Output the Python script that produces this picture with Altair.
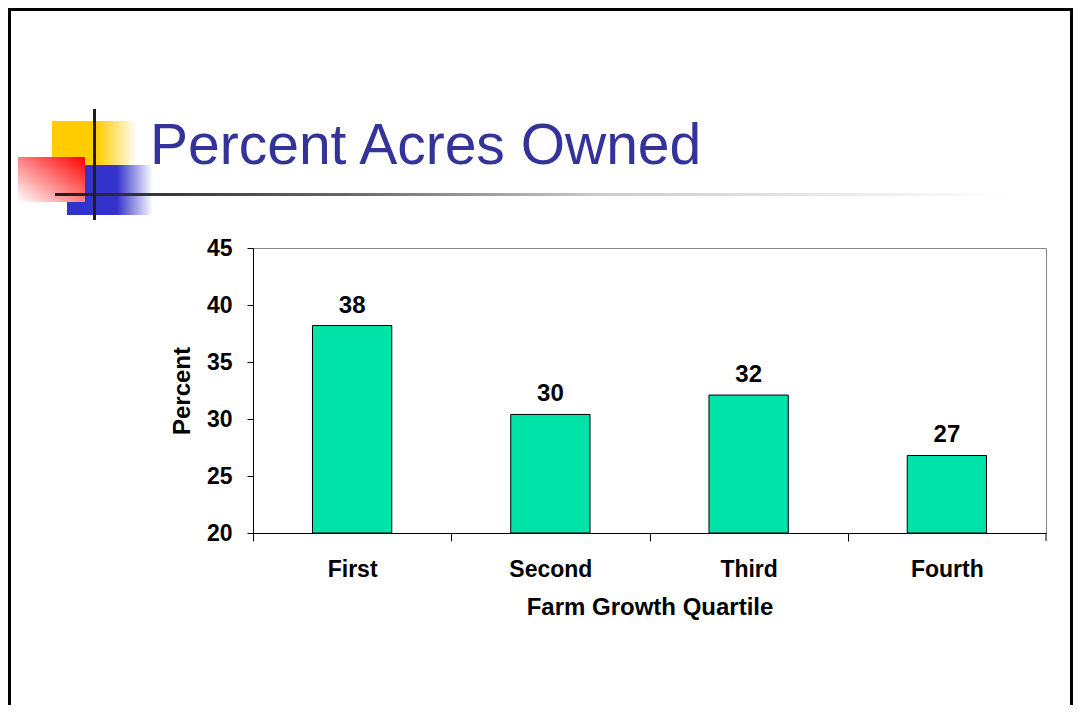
import altair as alt
import pandas as pd

# ---- data ----
quartiles = ["First", "Second", "Third", "Fourth"]
percent_owned = [38.2, 30.4, 32.1, 26.8]
value_labels = ["38", "30", "32", "27"]
y_ticks = [20, 25, 30, 35, 40, 45]

df = pd.DataFrame({"quartile": quartiles, "pct": percent_owned, "label": value_labels})
one = pd.DataFrame({"d": [0]})

FONT = "Liberation Sans"
W, H = 793, 285
STEP = W / len(quartiles)
# page origin of plot area: (253, 248); svg origin at page (8, 8)
PX, PY = 253, 248


def px(v):
    return v - PX


def py(v):
    return v - PY


xenc = alt.X(
    "quartile:N",
    sort=quartiles,
    scale=alt.Scale(paddingInner=0.6, paddingOuter=0.3),
    axis=alt.Axis(
        title="Farm Growth Quartile",
        labelAngle=0,
        labelFont=FONT,
        labelFontSize=23,
        labelFontWeight="bold",
        labelColor="black",
        labelPadding=17,
        tickOffset=-STEP / 2,
        labelOffset=STEP / 2,
        tickSize=8,
        tickColor="black",
        domainColor="black",
        titleFont=FONT,
        titleFontSize=24,
        titleFontWeight="bold",
        titleColor="black",
        titlePadding=14,
    ),
)
yenc = alt.Y(
    "pct:Q",
    scale=alt.Scale(domain=[20, 45], nice=False, zero=False),
    axis=alt.Axis(
        title="Percent",
        values=y_ticks,
        grid=False,
        labelFont=FONT,
        labelFontSize=23,
        labelFontWeight="bold",
        labelColor="black",
        labelPadding=15,
        tickSize=6,
        tickColor="black",
        domainColor="black",
        titleFont=FONT,
        titleFontSize=24,
        titleFontWeight="bold",
        titleColor="black",
        titlePadding=12,
    ),
)

bars = alt.Chart(df).mark_bar(
    color="#00E3A8", stroke="black", strokeWidth=1
).encode(x=xenc, y=yenc, y2=alt.datum(20))

texts = alt.Chart(df).mark_text(
    font=FONT, fontSize=24, fontWeight="bold", color="black", dy=-13, baseline="alphabetic"
).encode(x=alt.X("quartile:N", sort=quartiles), y="pct:Q", text="label:N")

# closing tick at the right end of the category axis
end_tick = alt.Chart(one).mark_rule(color="black", strokeWidth=1).encode(
    x=alt.value(W), y=alt.value(H), y2=alt.value(H + 8)
)


def grad(stops, x1=0, y1=0, x2=1, y2=0):
    return alt.LinearGradient(
        gradient="linear",
        stops=[alt.GradientStop(color=c, offset=o) for o, c in stops],
        x1=x1, y1=y1, x2=x2, y2=y2,
    )


def deco_rect(x0, x1, y0, y1, fill, **kw):
    return alt.Chart(one).mark_rect(fill=fill, **kw).encode(
        x=alt.value(px(x0)), x2=alt.value(px(x1)),
        y=alt.value(py(y0)), y2=alt.value(py(y1)),
    )


yellow = deco_rect(52, 137, 121, 165, grad([(0, "#FFCC00"), (0.53, "#FFCC00"), (1, "#FFFFFF")]))
blue = deco_rect(67, 153, 165, 215, grad([(0, "#3333CC"), (0.58, "#3333CC"), (1, "#FFFFFF")]))
red = deco_rect(18, 85, 157, 202, grad([(0, "#FF0000"), (1, "#FFFFFF")], x1=1, y1=0, x2=0, y2=1))
hline = deco_rect(55, 1015, 193, 196, grad([(0, "#1E1E1E"), (0.3, "#666666"), (0.57, "#CCCCCC"), (1, "#FFFFFF")]))
vline = deco_rect(93, 96, 109, 220, "#1E1E1E")
border = deco_rect(9.5, 1071.5, 9.5, 800, "white", fillOpacity=0, stroke="black", strokeWidth=3)

title = alt.Chart(one).mark_text(
    text="Percent Acres Owned", font=FONT, fontSize=57, color="#333399",
    align="left", baseline="alphabetic",
).encode(x=alt.value(px(150)), y=alt.value(py(164)))

chart = (
    alt.layer(border, yellow, blue, red, hline, vline, title, bars, texts, end_tick)
    .resolve_scale(x="shared", y="shared")
    .properties(
        width=W,
        height=H,
        autosize=alt.AutoSizeParams(type="none"),
        padding={"left": 245, "top": 240, "right": 27, "bottom": 172},
        background="white",
    )
    .configure_view(stroke="#888888", strokeWidth=1)
)

chart.save("out.html", embed_options={"renderer": "svg", "actions": False})
